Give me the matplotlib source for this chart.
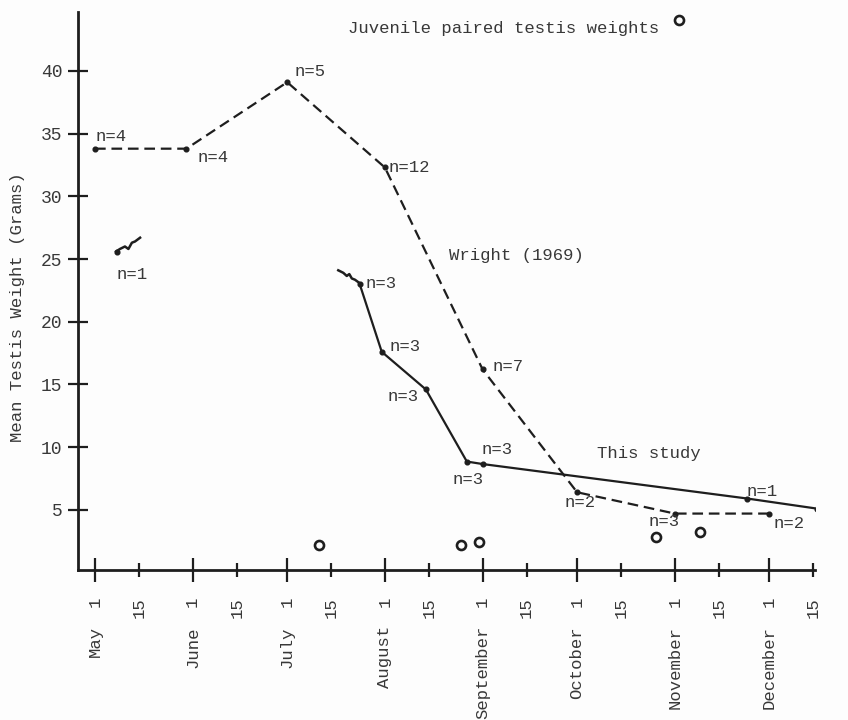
import matplotlib
matplotlib.use("Agg")
import matplotlib.pyplot as plt
import pandas as pd
from matplotlib.legend_handler import HandlerLine2D


SEASON_START = pd.Timestamp("2001-05-01")

MONTHS = ["May", "June", "July", "August", "September", "October", "November", "December"]
MONTH_NUMBERS = [5, 6, 7, 8, 9, 10, 11, 12]
TICK_DAYS = [1, 15]
WEIGHT_TICKS = [5, 10, 15, 20, 25, 30, 35, 40]

WRIGHT_DATES = ["05-01", "05-30", "07-01", "08-01", "09-01", "10-01", "11-01", "12-01"]
WRIGHT_WEIGHTS = [33.8, 33.8, 39.1, 32.3, 16.2, 6.4, 4.7, 4.7]
WRIGHT_N = [4, 4, 5, 12, 7, 2, 3, 2]

SINGLE_DATES = ["05-08"]
SINGLE_WEIGHTS = [25.6]
SINGLE_N = [1]

STUDY_DATES = ["07-24", "07-31", "08-14", "08-27", "09-01", "11-24", "12-16"]
STUDY_WEIGHTS = [23.0, 17.6, 14.6, 8.85, 8.65, 5.9, 5.1]
STUDY_N = [3, 3, 3, 3, 3, 1, 1]

JUVENILE_DATES = ["07-11", "08-25", "08-31", "10-26", "11-09"]
JUVENILE_WEIGHTS = [2.2, 2.2, 2.4, 2.8, 3.2]

# pen strokes drawn off two of the points (days after May 1, grams)
STROKE_A_DAYS = [6.7, 7.9, 9.5, 10.6, 11.7, 12.7, 14.3]
STROKE_A_WEIGHTS = [25.6, 25.8, 26.0, 25.8, 26.3, 26.4, 26.7]
STROKE_B_DAYS = [77.2, 78.8, 79.9, 80.7, 81.5, 82.5, 84.4]
STROKE_B_WEIGHTS = [24.1, 23.9, 23.65, 23.8, 23.45, 23.35, 23.0]

# label placement: (ha, dx px, dy px) from each point
WRIGHT_LABEL_POS = [("left", 1, 12.6), ("left", 11, -9), ("left", 7, 11), ("left", 3.5, 0),
                    ("left", 9.5, 3.3), ("center", 3.3, -10.4), ("center", -11, -8.4), ("left", 4.4, -10)]
SINGLE_LABEL_POS = [("left", -1, -23)]
STUDY_LABEL_POS = [("left", 5.7, 1), ("left", 7.3, 5.7), ("right", -7, -7.3), ("center", 1.7, -18.3),
                   ("left", -0.6, 15), ("left", -1, 7.3), ("left", 2, 6)]

FONT = ["Liberation Mono", "DejaVu Sans Mono"]
INK = "#1e1e1e"
TEXT = "#383838"
FS = 12.4


class RaisedMarker(HandlerLine2D):
    # the key circle sits a little above the legend text, like a superscript
    def create_artists(self, legend, orig_handle, xdescent, ydescent, width, height, fontsize, trans):
        return super().create_artists(legend, orig_handle, xdescent, ydescent - 0.8 * fontsize,
                                      width, height, fontsize, trans)


def day_offset(dates: list[str]) -> list[float]:
    stamps = pd.to_datetime([f"{SEASON_START.year}-{d}" for d in dates])
    return [float((s - SEASON_START).days) for s in stamps]


def label_points(ax, days, weights, counts, placement) -> None:
    for x, y, n, (ha, dx, dy) in zip(days, weights, counts, placement):
        ax.annotate(f"n={n}", (x, y), xytext=(dx, dy), textcoords="offset pixels",
                    ha=ha, va="center", fontsize=FS, color=TEXT, family=FONT)


def main() -> None:
    plt.rcParams["font.family"] = FONT
    fig = plt.figure(figsize=(8.48, 7.2), dpi=100, facecolor="#fdfdfd")
    ax = fig.add_axes([78 / 848, 1 - 570 / 720, (815 - 78) / 848, (570 - 12) / 720])
    ax.set_facecolor("#fdfdfd")

    wright_x = day_offset(WRIGHT_DATES)
    single_x = day_offset(SINGLE_DATES)
    study_x = day_offset(STUDY_DATES)
    juv_x = day_offset(JUVENILE_DATES)

    ax.plot(wright_x, WRIGHT_WEIGHTS, color=INK, lw=1.6, dashes=(4.8, 2.6),
            marker="o", ms=3.4, mfc=INK, mec=INK)
    ax.plot(study_x, STUDY_WEIGHTS, color=INK, lw=1.6, marker="o", ms=3.4)
    ax.plot(single_x, SINGLE_WEIGHTS, color=INK, lw=0, marker="o", ms=3.4)
    ax.plot(STROKE_A_DAYS, STROKE_A_WEIGHTS, color=INK, lw=1.8)
    ax.plot(STROKE_B_DAYS, STROKE_B_WEIGHTS, color=INK, lw=1.8)
    juvenile, = ax.plot(juv_x, JUVENILE_WEIGHTS, lw=0, marker="o", ms=6.5, mfc="none",
                        mec=INK, mew=1.9, label="Juvenile paired testis weights")

    label_points(ax, wright_x, WRIGHT_WEIGHTS, WRIGHT_N, WRIGHT_LABEL_POS)
    label_points(ax, single_x, SINGLE_WEIGHTS, SINGLE_N, SINGLE_LABEL_POS)
    label_points(ax, study_x, STUDY_WEIGHTS, STUDY_N, STUDY_LABEL_POS)

    ax.text(112.5, 25.3, "Wright (1969)", fontsize=FS, color=TEXT, va="center")
    ax.text(159.3, 9.5, "This study", fontsize=FS, color=TEXT, va="center")

    ax.legend(handles=[juvenile], loc="center left", bbox_to_anchor=(348 / 848, 1 - 28 / 720),
              bbox_transform=fig.transFigure, frameon=False, markerfirst=False,
              handlelength=1.0, handletextpad=0.65, borderpad=0, borderaxespad=0,
              prop={"family": FONT, "size": FS}, labelcolor=TEXT,
              handler_map={juvenile: RaisedMarker()})

    # axes
    ax.set_xlim(-5.4, 228.5)
    ax.set_ylim(0.2, 44.7)
    for side in ("top", "right"):
        ax.spines[side].set_visible(False)
    for side in ("left", "bottom"):
        ax.spines[side].set_linewidth(2.0)
        ax.spines[side].set_color(INK)

    firsts = day_offset([f"{m:02d}-{TICK_DAYS[0]:02d}" for m in MONTH_NUMBERS])
    mids = day_offset([f"{m:02d}-{TICK_DAYS[1]:02d}" for m in MONTH_NUMBERS])
    ax.set_xticks(firsts, labels=[str(TICK_DAYS[0])] * len(firsts))
    ax.set_xticks(mids, labels=[str(TICK_DAYS[1])] * len(mids), minor=True)
    ax.tick_params(axis="x", which="major", direction="inout", length=17, width=1.6,
                   color=INK, pad=10.8, labelsize=FS, labelcolor=TEXT, labelrotation=90)
    ax.tick_params(axis="x", which="minor", direction="inout", length=10, width=1.6,
                   color=INK, pad=14.4, labelsize=FS, labelcolor=TEXT, labelrotation=90)
    for lab in ax.get_xticklabels(which="both"):
        lab.set_verticalalignment("top")

    ax.set_yticks(WEIGHT_TICKS)
    ax.tick_params(axis="y", direction="inout", length=14, width=1.6, color=INK,
                   pad=4.3, labelsize=13, labelcolor=TEXT)

    for x, month in zip(firsts, MONTHS):
        ax.annotate(month, (x, 0), xycoords=("data", "axes fraction"), xytext=(0, -56),
                    textcoords="offset pixels", rotation=90, ha="center", va="top",
                    fontsize=FS, color=TEXT)

    fig.text(17.5 / 848, 1 - 307 / 720, "Mean Testis Weight (Grams)", rotation=90,
             ha="center", va="center", fontsize=FS, color=TEXT)

    fig.savefig("out.png", dpi=100, facecolor=fig.get_facecolor())


if __name__ == "__main__":
    main()
